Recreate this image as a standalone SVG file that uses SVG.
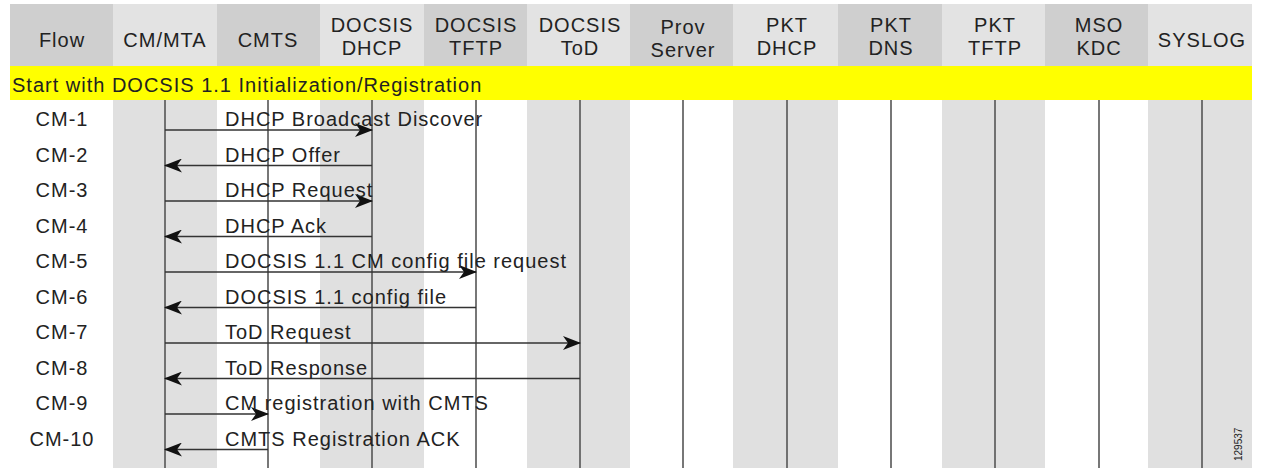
<svg xmlns="http://www.w3.org/2000/svg" width="1262" height="468" viewBox="0 0 1262 468">
<style>
text{font-family:"Liberation Sans",Arial,sans-serif;font-size:20px;fill:#222;letter-spacing:1px}
.h{text-anchor:middle}
.hd{fill:#cfcfcf}
.hl{fill:#e3e3e3}
.bg{fill:#e0e0e0}
.bw{fill:#ffffff}
.life{stroke:#555;stroke-width:1.6}
.msg{stroke:#333;stroke-width:1.6;fill:none;marker-end:url(#ah)}
.fl{text-anchor:middle}
.id{font-size:10px;letter-spacing:0}
</style>
<defs>
<marker id="ah" markerUnits="userSpaceOnUse" markerWidth="18" markerHeight="14" refX="17" refY="7" orient="auto">
<path d="M0,0 L18,7 L0,14 L5,7 z" fill="#111"/>
</marker>
</defs>
<rect width="1262" height="468" fill="#ffffff"/>
<g id="lane-flow">
<rect class="hd" x="10" y="4" width="103" height="62"/>
<rect class="bw" x="10" y="100" width="103" height="368"/>
<text class="h" x="62" y="47">Flow</text>
<text class="fl" x="62" y="126">CM-1</text>
<text class="fl" x="62" y="161.5">CM-2</text>
<text class="fl" x="62" y="197">CM-3</text>
<text class="fl" x="62" y="232.5">CM-4</text>
<text class="fl" x="62" y="268">CM-5</text>
<text class="fl" x="62" y="303.5">CM-6</text>
<text class="fl" x="62" y="339">CM-7</text>
<text class="fl" x="62" y="374.5">CM-8</text>
<text class="fl" x="62" y="410">CM-9</text>
<text class="fl" x="62" y="445.5">CM-10</text>
</g>
<g id="lane-cmmta">
<rect class="hl" x="113" y="4" width="104" height="62"/>
<rect class="bg" x="113" y="100" width="104" height="368"/>
<text class="h" x="165" y="47">CM/MTA</text>
<line class="life" x1="165" y1="100" x2="165" y2="468"/>
</g>
<g id="lane-cmts">
<rect class="hd" x="217" y="4" width="103" height="62"/>
<rect class="bw" x="217" y="100" width="103" height="368"/>
<text class="h" x="268" y="47">CMTS</text>
<line class="life" x1="268" y1="100" x2="268" y2="468"/>
</g>
<g id="lane-docsis-dhcp">
<rect class="hl" x="320" y="4" width="104" height="62"/>
<rect class="bg" x="320" y="100" width="104" height="368"/>
<text class="h" x="372" y="32">DOCSIS</text>
<text class="h" x="372" y="55">DHCP</text>
<line class="life" x1="372" y1="100" x2="372" y2="468"/>
</g>
<g id="lane-docsis-tftp">
<rect class="hd" x="424" y="4" width="103" height="62"/>
<rect class="bw" x="424" y="100" width="103" height="368"/>
<text class="h" x="476" y="32">DOCSIS</text>
<text class="h" x="476" y="55">TFTP</text>
<line class="life" x1="476" y1="100" x2="476" y2="468"/>
</g>
<g id="lane-docsis-tod">
<rect class="hl" x="527" y="4" width="103" height="62"/>
<rect class="bg" x="527" y="100" width="103" height="368"/>
<text class="h" x="580" y="32">DOCSIS</text>
<text class="h" x="580" y="55">ToD</text>
<line class="life" x1="580" y1="100" x2="580" y2="468"/>
</g>
<g id="lane-prov-server">
<rect class="hd" x="630" y="4" width="103" height="62"/>
<rect class="bw" x="630" y="100" width="103" height="368"/>
<text class="h" x="683" y="34">Prov</text>
<text class="h" x="683" y="57">Server</text>
<line class="life" x1="683" y1="100" x2="683" y2="468"/>
</g>
<g id="lane-pkt-dhcp">
<rect class="hl" x="733" y="4" width="105" height="62"/>
<rect class="bg" x="733" y="100" width="105" height="368"/>
<text class="h" x="787" y="32">PKT</text>
<text class="h" x="787" y="55">DHCP</text>
<line class="life" x1="787" y1="100" x2="787" y2="468"/>
</g>
<g id="lane-pkt-dns">
<rect class="hd" x="838" y="4" width="104" height="62"/>
<rect class="bw" x="838" y="100" width="104" height="368"/>
<text class="h" x="891" y="32">PKT</text>
<text class="h" x="891" y="55">DNS</text>
<line class="life" x1="891" y1="100" x2="891" y2="468"/>
</g>
<g id="lane-pkt-tftp">
<rect class="hl" x="942" y="4" width="103" height="62"/>
<rect class="bg" x="942" y="100" width="103" height="368"/>
<text class="h" x="995" y="32">PKT</text>
<text class="h" x="995" y="55">TFTP</text>
<line class="life" x1="995" y1="100" x2="995" y2="468"/>
</g>
<g id="lane-mso-kdc">
<rect class="hd" x="1045" y="4" width="103" height="62"/>
<rect class="bw" x="1045" y="100" width="103" height="368"/>
<text class="h" x="1099" y="32">MSO</text>
<text class="h" x="1099" y="55">KDC</text>
<line class="life" x1="1099" y1="100" x2="1099" y2="468"/>
</g>
<g id="lane-syslog">
<rect class="hl" x="1148" y="4" width="104" height="62"/>
<rect class="bg" x="1148" y="100" width="104" height="368"/>
<text class="h" x="1202" y="47">SYSLOG</text>
<line class="life" x1="1202" y1="100" x2="1202" y2="468"/>
</g>
<g id="phase-banner">
<rect x="10" y="66" width="1242" height="34" fill="#ffff00"/>
<text x="12" y="92">Start with DOCSIS 1.1 Initialization/Registration</text>
</g>
<g id="connectors">
<line class="msg" x1="165" y1="130" x2="372" y2="130"/>
<text x="225" y="126">DHCP Broadcast Discover</text>
<line class="msg" x1="372" y1="165.5" x2="165" y2="165.5"/>
<text x="225" y="161.5">DHCP Offer</text>
<line class="msg" x1="165" y1="201" x2="372" y2="201"/>
<text x="225" y="197">DHCP Request</text>
<line class="msg" x1="372" y1="236.5" x2="165" y2="236.5"/>
<text x="225" y="232.5">DHCP Ack</text>
<line class="msg" x1="165" y1="272" x2="476" y2="272"/>
<text x="225" y="268">DOCSIS 1.1 CM config file request</text>
<line class="msg" x1="476" y1="307.5" x2="165" y2="307.5"/>
<text x="225" y="303.5">DOCSIS 1.1 config file</text>
<line class="msg" x1="165" y1="343" x2="580" y2="343"/>
<text x="225" y="339">ToD Request</text>
<line class="msg" x1="580" y1="378.5" x2="165" y2="378.5"/>
<text x="225" y="374.5">ToD Response</text>
<line class="msg" x1="165" y1="414" x2="268" y2="414"/>
<text x="225" y="410">CM registration with CMTS</text>
<line class="msg" x1="268" y1="449.5" x2="165" y2="449.5"/>
<text x="225" y="445.5">CMTS Registration ACK</text>
</g>
<text class="id" transform="translate(1242,461) rotate(-90)">129537</text>
</svg>
